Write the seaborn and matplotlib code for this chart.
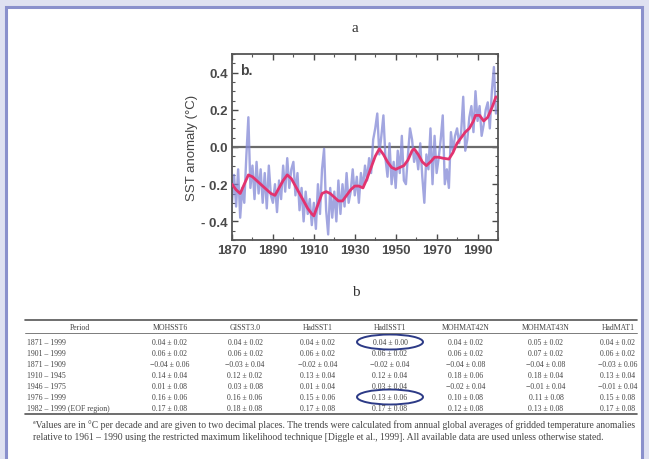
"""SST anomaly (panel a) with the trend table (panel b) underneath."""
import numpy as np
import pandas as pd
import seaborn as sns
import matplotlib.pyplot as plt
from matplotlib.patches import Rectangle, Ellipse
from matplotlib.ticker import MultipleLocator

# annual global SST anomaly, 1870-1999
years = list(range(1870, 2000))
sst_annual = [
    -0.30, -0.15, -0.32, -0.12, -0.38, -0.22, -0.30, -0.05, 0.16, -0.22,
    -0.10, -0.28, -0.08, -0.25, -0.12, -0.30, -0.14, -0.33, -0.10, -0.26,
    -0.30, -0.20, -0.35, -0.18, -0.28, -0.10, -0.24, -0.06, -0.22, -0.12,
    -0.08, -0.26, -0.14, -0.34, -0.22, -0.40, -0.24, -0.36, -0.28, -0.42,
    -0.30, -0.44, -0.20, -0.36, -0.12, -0.01, -0.34, -0.47, -0.22, -0.38,
    -0.24, -0.40, -0.18, -0.36, -0.20, -0.32, -0.14, -0.30, -0.24, -0.12,
    -0.26, -0.16, -0.30, -0.14, -0.22, -0.10, -0.18, -0.06, -0.14, 0.04,
    0.10, 0.18, -0.04, 0.06, 0.17, -0.06, -0.16, 0.02, -0.20, -0.08,
    -0.22, -0.02, -0.14, 0.06, -0.18, -0.20, -0.04, 0.10, 0.04, -0.08,
    -0.02, -0.12, 0.02, -0.16, -0.30, -0.04, -0.12, 0.10, -0.20, 0.06,
    -0.14, -0.06, 0.04, 0.17, -0.20, -0.12, -0.22, 0.08, -0.02, 0.06,
    0.10, 0.02, 0.08, 0.27, -0.02, 0.04, 0.16, 0.22, 0.08, 0.30,
    0.14, 0.22, 0.06, 0.12, 0.20, 0.24, 0.10, 0.30, 0.43, 0.18,
]

# smoothed curve (red)
smooth_years = [1870, 1872, 1874, 1876, 1878, 1880, 1883, 1886, 1889, 1891,
                1893, 1895, 1897, 1899, 1901, 1903, 1905, 1907, 1909, 1910,
                1912, 1914, 1916, 1918, 1920, 1922, 1924, 1926, 1928, 1930,
                1932, 1934, 1936, 1938, 1940, 1942, 1944, 1946, 1948, 1950,
                1952, 1954, 1956, 1958, 1959, 1961, 1963, 1965, 1967, 1969,
                1971, 1973, 1976, 1978, 1980, 1982, 1984, 1986, 1988, 1989,
                1991, 1993, 1995, 1997, 1999]
smooth_vals = [-0.20, -0.23, -0.25, -0.20, -0.15, -0.16, -0.19, -0.22, -0.25, -0.26,
               -0.22, -0.18, -0.15, -0.17, -0.21, -0.25, -0.29, -0.33, -0.36, -0.37,
               -0.31, -0.25, -0.24, -0.25, -0.27, -0.29, -0.29, -0.26, -0.23, -0.21,
               -0.21, -0.22, -0.17, -0.11, -0.05, -0.01, -0.04, -0.08, -0.11, -0.12,
               -0.11, -0.10, -0.07, -0.02, -0.01, -0.04, -0.08, -0.10, -0.08, -0.055,
               -0.055, -0.06, -0.065, -0.03, 0.02, 0.05, 0.08, 0.10, 0.14, 0.17,
               0.17, 0.14, 0.16, 0.21, 0.27]

# table b
columns = ["Period", "MOHSST6", "GISST3.0", "HadSST1", "HadISST1",
           "MOHMAT42N", "MOHMAT43N", "HadMAT1"]
periods = ["1871 – 1999", "1901 – 1999", "1871 – 1909", "1910 – 1945",
           "1946 – 1975", "1976 – 1999", "1982 – 1999 (EOF region)"]
trends = [
    ["0.04 ± 0.02", "0.04 ± 0.02", "0.04 ± 0.02", "0.04 ± 0.00", "0.04 ± 0.02", "0.05 ± 0.02", "0.04 ± 0.02"],
    ["0.06 ± 0.02", "0.06 ± 0.02", "0.06 ± 0.02", "0.06 ± 0.02", "0.06 ± 0.02", "0.07 ± 0.02", "0.06 ± 0.02"],
    ["−0.04 ± 0.06", "−0.03 ± 0.04", "−0.02 ± 0.04", "−0.02 ± 0.04", "−0.04 ± 0.08", "−0.04 ± 0.08", "−0.03 ± 0.06"],
    ["0.14 ± 0.04", "0.12 ± 0.02", "0.13 ± 0.04", "0.12 ± 0.04", "0.18 ± 0.06", "0.18 ± 0.04", "0.13 ± 0.04"],
    ["0.01 ± 0.08", "0.03 ± 0.08", "0.01 ± 0.04", "0.03 ± 0.04", "−0.02 ± 0.04", "−0.01 ± 0.04", "−0.01 ± 0.04"],
    ["0.16 ± 0.06", "0.16 ± 0.06", "0.15 ± 0.06", "0.13 ± 0.06", "0.10 ± 0.08", "0.11 ± 0.08", "0.15 ± 0.08"],
    ["0.17 ± 0.08", "0.18 ± 0.08", "0.17 ± 0.08", "0.17 ± 0.08", "0.12 ± 0.08", "0.13 ± 0.08", "0.17 ± 0.08"],
]
footnote = ("ªValues are in °C per decade and are given to two decimal places. The trends were calculated "
            "from annual global averages of gridded temperature anomalies\n"
            "relative to 1961 – 1990 using the restricted maximum likelihood technique "
            "[Diggle et al., 1999]. All available data are used unless otherwise stated.")

sns.set_style("ticks")
plt.rcParams["font.family"] = ["Liberation Sans", "DejaVu Sans"]

W, H = 649, 460
fig = plt.figure(figsize=(W / 100, H / 100), dpi=100)
fig.patch.set_facecolor("#dfe1f1")
fig.patches.append(Rectangle((6 / W, -0.05), 636 / W, 1 - 8 / H + 0.05,
                             transform=fig.transFigure, facecolor="white",
                             edgecolor="#8a90cc", linewidth=2.2, zorder=-10))

def fx(px):
    return px / W

def fy(py):
    return 1 - py / H

serif = ["Liberation Serif", "DejaVu Serif"]

# ---- panel a: SST anomaly
ax = fig.add_axes([fx(232), fy(241), fx(498) - fx(232), fy(55) - fy(241)])
ax.set_facecolor("white")
ax.axhline(0, color="#6b6b6b", linewidth=1.6, zorder=1)
sns.lineplot(x=years, y=sst_annual, ax=ax, color="#8388d6", linewidth=1.7, alpha=0.75, zorder=2)
sns.lineplot(x=smooth_years, y=smooth_vals, ax=ax, color="#e2336f", linewidth=2.0, zorder=3)
ax.set_xlim(1870, 2000)
ax.set_ylim(-0.5, 0.5)
ax.set_xticks(range(1870, 2000, 20))
ax.set_yticks([-0.4, -0.2, 0.0, 0.2, 0.4])
ax.set_yticklabels(["- 0.4", "- 0.2", "0.0", "0.2", "0.4"])
ax.yaxis.set_minor_locator(MultipleLocator(0.05))
ax.xaxis.set_minor_locator(MultipleLocator(10))
ax.tick_params(direction="in", top=True, right=True, labelsize=9.5,
               colors="#4a4a4a", length=4, width=1.0, pad=3)
ax.tick_params(which="minor", direction="in", top=True, right=True, length=2, width=0.8,
               colors="#555555")
for lab in ax.get_xticklabels() + ax.get_yticklabels():
    lab.set_fontweight("bold")
for s in ax.spines.values():
    s.set_color("#555555")
    s.set_linewidth(1.3)
ax.set_xlabel("")
ax.set_ylabel("SST anomaly (°C)", fontsize=9.5, color="#444444", labelpad=2)
ax.text(0.03, 0.95, "b.", transform=ax.transAxes, ha="left", va="top",
        fontsize=10, fontweight="bold", color="#444444")

fig.text(fx(355), fy(28), "a", ha="center", va="center", fontsize=11, family=serif, color="#333333")
fig.text(fx(356), fy(293), "b", ha="center", va="center", fontsize=11, family=serif, color="#333333")

# ---- panel b: table
tab = fig.add_axes([0, 0, 1, 1], facecolor="none")
tab.set_xlim(0, W)
tab.set_ylim(H, 0)
tab.axis("off")
col_x = [80, 170, 245, 318, 390, 466, 546, 618]
top_rule, head_y, head_rule = 321, 328, 334
row_y = [343 + 11 * i for i in range(len(periods))]
bot_rule = 415
tab.plot([25, 637], [top_rule, top_rule], color="#555555", linewidth=1.2)
tab.plot([25, 637], [head_rule, head_rule], color="#666666", linewidth=0.6)
tab.plot([25, 637], [bot_rule, bot_rule], color="#555555", linewidth=1.2)
for x, c in zip(col_x, columns):
    tab.text(x, head_y, c, ha="center", va="center", fontsize=5.6, family=serif, color="#444444")
for y, p, vals in zip(row_y, periods, trends):
    tab.text(27, y, p, ha="left", va="center", fontsize=5.6, family=serif, color="#444444")
    for x, v in zip(col_x[1:], vals):
        tab.text(x, y, v, ha="center", va="center", fontsize=5.6, family=serif, color="#444444")
for r in [0, 5]:
    tab.add_patch(Ellipse((col_x[4], row_y[r]), 66, 15, facecolor="none",
                          edgecolor="#2c3a86", linewidth=1.4))
tab.text(33, 420, footnote, ha="left", va="top", fontsize=6.9, family=serif,
         color="#444444", linespacing=1.45)

fig.savefig("out.png", dpi=100, facecolor=fig.get_facecolor())
